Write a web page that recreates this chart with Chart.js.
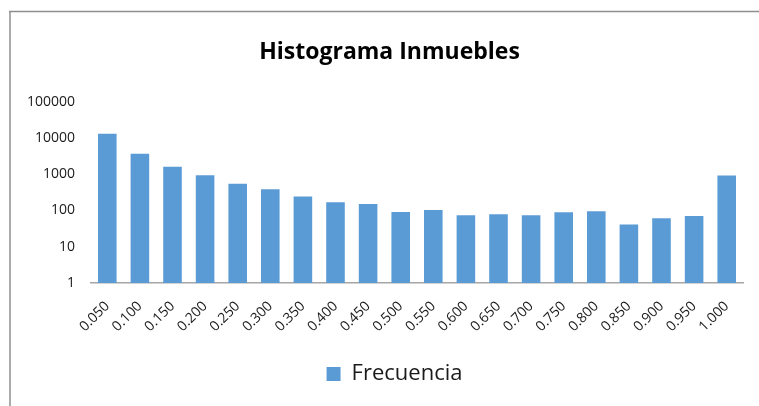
<!DOCTYPE html>
<html>
<head>
<meta charset="utf-8">
<script src="https://cdn.jsdelivr.net/npm/chart.js@4"></script>
<style>
  html, body { margin: 0; padding: 0; background: #fff; overflow: hidden; }
  #histChart { display: block; }
</style>
</head>
<body>
<canvas id="histChart" width="759" height="406"></canvas>
<script>
// bins (upper edge) and how many properties fall in each
const bins = ["0.050","0.100","0.150","0.200","0.250","0.300","0.350","0.400","0.450","0.500",
              "0.550","0.600","0.650","0.700","0.750","0.800","0.850","0.900","0.950","1.000"];
const frecuencia = [13000, 3650, 1600, 940, 540, 385, 241, 169, 151, 91,
                    103, 74, 78, 74, 89, 95, 41, 61, 70, 920];
const yTicks = [1, 10, 100, 1000, 10000, 100000];

const barBlue = "#5b9bd5";
const fontName = "'Open Sans'";

//-----------------------------------------------------------------------------
// thin grey frame round the chart object (left + top edges are visible)
const framePlugin = {
    id: "frame",
    beforeDraw(chart) {
        const ctx = chart.ctx;
        ctx.save();
        ctx.lineWidth = 2;
        ctx.strokeStyle = "#ababab";
        ctx.beginPath();
        ctx.moveTo(10, 11);
        ctx.lineTo(10, chart.height);
        ctx.stroke();
        ctx.lineWidth = 1.5;
        ctx.strokeStyle = "#8e8e8e";
        ctx.beginPath();
        ctx.moveTo(9, 11.5);
        ctx.lineTo(chart.width, 11.5);
        ctx.stroke();
        ctx.restore();
    }
};
//-----------------------------------------------------------------------------
// title and legend sit centred on the whole frame, not on the plot -> nudge right
const nudgePlugin = {
    id: "nudge",
    afterLayout(chart) {
        chart.titleBlock.left += 5;
        chart.titleBlock.right += 5;
        chart.legend.left += 10;
        chart.legend.right += 10;
    }
};

//-----------------------------------------------------------------------------
new Chart(document.getElementById("histChart"), {
    type: "bar",
    data: {
        labels: bins,
        datasets: [{
            label: "Frecuencia",
            data: frecuencia,
            backgroundColor: barBlue,
            borderWidth: 0,
            barPercentage: 0.57,
            categoryPercentage: 1.0
        }]
    },
    plugins: [framePlugin, nudgePlugin],
    options: {
        responsive: false,
        animation: false,
        layout: {
            padding: { left: 26, right: 16, top: 0, bottom: 11 }
        },
        plugins: {
            title: {
                display: true,
                text: "Histograma Inmuebles",
                color: "#000",
                font: { family: fontName, size: 23, weight: "bold" },
                padding: { top: 39, bottom: 35 }
            },
            legend: {
                position: "bottom",
                labels: {
                    boxWidth: 14,
                    boxHeight: 14,
                    color: "#1a1a1a",
                    font: { family: fontName, size: 22 },
                    padding: 10
                }
            },
            tooltip: { enabled: false }
        },
        scales: {
            y: {
                type: "logarithmic",
                min: 1,
                max: 100000,
                afterBuildTicks: (scale) => {
                    scale.ticks = yTicks.map(v => ({ value: v }));
                },
                afterFit: (scale) => { scale.width = 65; },
                grid: { display: false, drawTicks: false },
                border: { display: false },
                ticks: {
                    color: "#1a1a1a",
                    font: { family: fontName, size: 14 },
                    padding: 16,
                    callback: (v) => String(v)
                }
            },
            x: {
                afterFit: (scale) => { scale.height = 70; },
                grid: { display: false, drawTicks: false },
                border: { display: true, color: "#a6a6a6", width: 1.5 },
                ticks: {
                    autoSkip: false,
                    minRotation: 45,
                    maxRotation: 45,
                    color: "#1a1a1a",
                    font: { family: fontName, size: 14 },
                    padding: 15
                }
            }
        }
    }
});
</script>
</body>
</html>
